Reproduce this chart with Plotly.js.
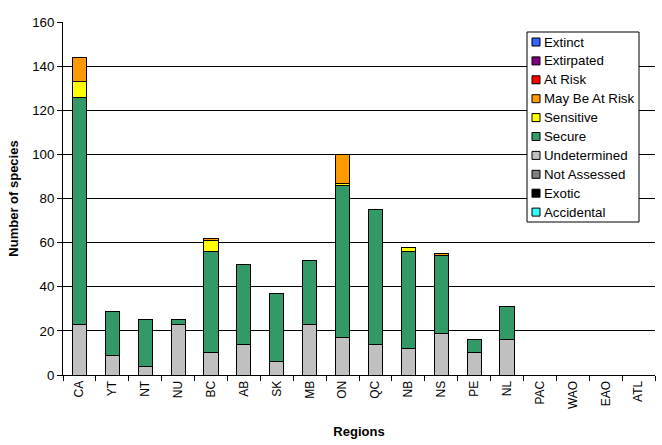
<!DOCTYPE html>
<html>
<head>
<meta charset="utf-8">
<script src="https://cdn.plot.ly/plotly-3.0.1.min.js"></script>
<style>html,body{margin:0;padding:0;background:#fff;}#chart{width:662px;height:445px;}</style>
</head>
<body>
<div id="chart"></div>
<script>
var regions = ["CA","YT","NT","NU","BC","AB","SK","MB","ON","QC","NB","NS","PE","NL","PAC","WAO","EAO","ATL"];
var accidental   = [0,0,0,0,0,0,0,0,0,0,0,0,0,0,0,0,0,0];
var exotic       = [0,0,0,0,0,0,0,0,0,0,0,0,0,0,0,0,0,0];
var notAssessed  = [0,0,0,0,0,0,0,0,0,0,0,0,0,0,0,0,0,0];
var undetermined = [23,9,4,23,10,14,6,23,17,14,12,19,10,16,0,0,0,0];
var secure       = [103,20,21,2,46,36,31,29,69,61,44,35,6,15,0,0,0,0];
var sensitive    = [7,0,0,0,5,0,0,0,1,0,2,0,0,0,0,0,0,0];
var mayBeAtRisk  = [11,0,0,0,1,0,0,0,13,0,0,1,0,0,0,0,0,0];
var atRisk       = [0,0,0,0,0,0,0,0,0,0,0,0,0,0,0,0,0,0];
var extirpated   = [0,0,0,0,0,0,0,0,0,0,0,0,0,0,0,0,0,0];
var extinct      = [0,0,0,0,0,0,0,0,0,0,0,0,0,0,0,0,0,0];

var seriesNames = ["Accidental","Exotic","Not Assessed","Undetermined","Secure","Sensitive","May Be At Risk","At Risk","Extirpated","Extinct"];
var seriesData = [accidental, exotic, notAssessed, undetermined, secure, sensitive, mayBeAtRisk, atRisk, extirpated, extinct];
var seriesColors = ["#33ffff","#000000","#808080","#c0c0c0","#339966","#ffff00","#ff9900","#ff0000","#800080","#3366ff"];

var W = 662, H = 445, ML = 63, MR = 7, MT = 22, MB = 70;
var PW = W - ML - MR, PH = H - MT - MB;
function px(x){ return (x - ML) / PW; }
function py(y){ return (H - MB - y) / PH; }

var traces = seriesNames.map(function(n, i){
  return {
    type: "bar", name: n, x: regions, y: seriesData[i],
    marker: {color: seriesColors[i], line: {color: "#000", width: 1}},
    width: 0.43, showlegend: false
  };
});

var fam = "Liberation Sans, Arial, sans-serif";

// custom legend (Excel style): box, swatches, labels; top entry is last series
var shapes = [{
  type: "rect", xref: "paper", yref: "paper",
  x0: px(527), x1: px(639), y0: py(32), y1: py(222),
  fillcolor: "#fff", line: {color: "#000", width: 1}, layer: "above"
}];
var annotations = [];
var legendOrder = seriesNames.slice().reverse();
var legendColors = seriesColors.slice().reverse();
legendOrder.forEach(function(n, k){
  var cy = 42 + k * 18.9;
  shapes.push({
    type: "rect", xref: "paper", yref: "paper",
    x0: px(532), x1: px(540), y0: py(cy - 4), y1: py(cy + 4),
    fillcolor: legendColors[k], line: {color: "#000", width: 1}, layer: "above"
  });
  annotations.push({
    xref: "paper", yref: "paper", x: px(542), y: py(cy),
    xanchor: "left", yanchor: "middle", showarrow: false,
    text: n, font: {family: fam, size: 13.3, color: "#000"}
  });
});

var layout = {
  width: W, height: H,
  margin: {l: ML, r: MR, t: MT, b: MB, pad: 0},
  paper_bgcolor: "#fff", plot_bgcolor: "#fff",
  barmode: "stack",
  font: {family: fam, size: 12, color: "#000"},
  showlegend: false,
  shapes: shapes,
  annotations: annotations,
  xaxis: {
    type: "category", categoryorder: "array", categoryarray: regions,
    tickangle: -90, ticks: "outside", ticklen: 5, tickcolor: "#000", tickson: "boundaries",
    showline: true, linecolor: "#000", linewidth: 1, showgrid: false,
    tickfont: {family: fam, size: 12, color: "#000"},
    title: {text: "<b>Regions</b>", font: {family: fam, size: 13, color: "#000"}, standoff: 18},
    range: [-0.5, 17.5]
  },
  yaxis: {
    range: [0, 160], dtick: 20, ticks: "outside", ticklen: 5, tickcolor: "#000",
    showline: true, linecolor: "#000", linewidth: 1,
    showgrid: true, gridcolor: "#000", gridwidth: 1, zeroline: false,
    tickfont: {family: fam, size: 13.3, color: "#000"},
    title: {text: "<b>Number of species</b>", font: {family: fam, size: 13, color: "#000"}, standoff: 10}
  }
};
Plotly.newPlot("chart", traces, layout, {displayModeBar: false, staticPlot: true});
</script>
</body>
</html>
